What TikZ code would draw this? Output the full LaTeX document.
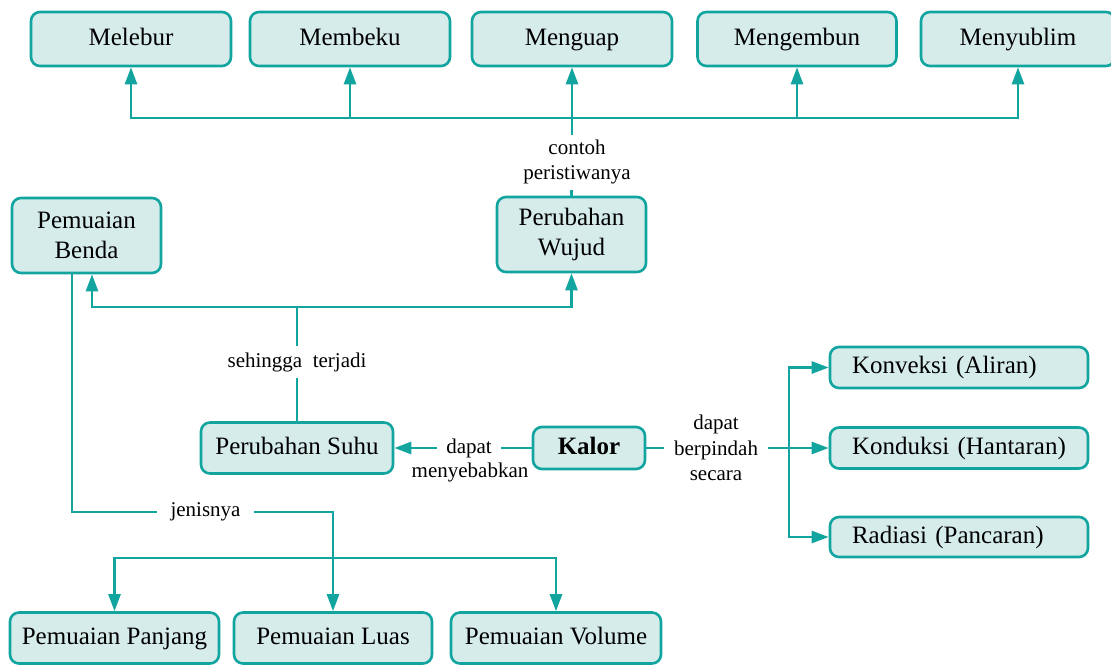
\documentclass[tikz,border=0pt]{standalone}
\usepackage{fontspec}
\setmainfont{Liberation Serif}
\usetikzlibrary{arrows.meta}
\definecolor{tl}{RGB}{18,165,160}
\definecolor{tlfill}{RGB}{214,236,235}
\begin{document}
\begin{tikzpicture}[x=1pt,y=-1pt,
 boxbase/.style={draw=tl, fill=tlfill, line width=2.6pt, rounded corners=9pt, inner sep=0pt, align=center, font=\fontsize{25}{30}\selectfont},
 box/.style={boxbase, text height=17pt, text depth=5pt},
 box2/.style={boxbase},
 lbl/.style={inner sep=0pt, align=center, font=\fontsize{21}{25.5}\selectfont},
 con/.style={draw=tl, line width=2.6pt},
 arr/.style={con, -{Triangle[length=17pt,width=12pt]}}]
\useasboundingbox (0,0) rectangle (1111,664);

% top row
\node[box, minimum width=200pt, minimum height=54pt] (melebur) at (131,39) {Melebur};
\node[box, minimum width=200pt, minimum height=54pt] (membeku) at (350,39) {Membeku};
\node[box, minimum width=200pt, minimum height=54pt] (menguap) at (572,39) {Menguap};
\node[box, minimum width=199pt, minimum height=54pt] (mengembun) at (797,39) {Mengembun};
\node[box, minimum width=194pt, minimum height=54pt] (menyublim) at (1018,39) {Menyublim};

% middle
\node[box2, minimum width=149pt, minimum height=75pt] (wujud) at (571.5,234.5) {Perubahan\\Wujud};
\node[box2, minimum width=149pt, minimum height=75pt] (benda) at (86.5,235.5) {Pemuaian\\Benda};
\node[box, minimum width=192pt, minimum height=51pt] (suhu) at (297,448) {Perubahan Suhu};
\node[box, minimum width=112pt, minimum height=42pt] (kalor) at (589,448) {\textbf{Kalor}};

% right
\node[box, text width=214pt, inner xsep=22pt, align=left, minimum height=41pt] (konv) at (959,367.5) {Konveksi (Aliran)};
\node[box, text width=214pt, inner xsep=22pt, align=left, minimum height=41pt] (kond) at (959,448) {Konduksi (Hantaran)};
\node[box, text width=214pt, inner xsep=22pt, align=left, minimum height=40pt] (rad) at (959,537) {Radiasi (Pancaran)};

% bottom
\node[box, minimum width=209pt, minimum height=51pt] (panjang) at (114.5,638) {Pemuaian Panjang};
\node[box, minimum width=198pt, minimum height=51pt] (luas) at (333,638) {Pemuaian Luas};
\node[box, minimum width=210pt, minimum height=51pt] (volume) at (556,638) {Pemuaian Volume};

% labels
\node[lbl, inner xsep=4pt, inner ysep=5pt] (lblC) at (577,162) {contoh\\peristiwanya};
\node[lbl, inner ysep=6pt] (lblS) at (297,362) {sehingga\ \ terjadi};
\node[lbl, inner xsep=9pt] (lblD) at (469,448) {dapat};
\node[lbl] (lblM) at (470,472) {menyebabkan};
\node[lbl, inner xsep=10pt] (lblB) at (716,448) {dapat\\berpindah\\secara};
\node[lbl, inner xsep=13.5pt] (lblJ) at (205.5,512) {jenisnya};

% top connectors
\coordinate (h) at (572,118);
\draw[arr] (h) -| (melebur);
\draw[arr] (h) -| (membeku);
\draw[arr] (h) -| (mengembun);
\draw[arr] (h) -| (menyublim);
\draw[arr] (menguap.south |- lblC.north) -- (menguap.south);
\draw[con] (wujud.north) -- (wujud.north |- lblC.south);

% suhu to benda / wujud
\coordinate (g) at (297,307);
\draw[con] (suhu.north) -- (lblS.south);
\draw[con] (lblS.north) -- (g);
\draw[arr] (g) -| ([xshift=5.5pt]benda.south);
\draw[arr] (g) -| (wujud);

% kalor left
\draw[con] (kalor) -- (lblD);
\draw[arr] (lblD) -- (suhu);

% kalor right
\coordinate (k) at (789,448);
\draw[con] (kalor) -- (lblB);
\draw[arr] (lblB) -- (kond);
\draw[arr] (k) |- (konv);
\draw[arr] (k) |- (rad);

% benda to types
\draw[con] ([xshift=-14.5pt]benda.south) |- (lblJ.west);
\draw[arr] (lblJ.east) -| (luas);
\coordinate (b) at (333,558);
\draw[arr] (b) -| (panjang);
\draw[arr] (b) -| (volume);
\end{tikzpicture}
\end{document}
